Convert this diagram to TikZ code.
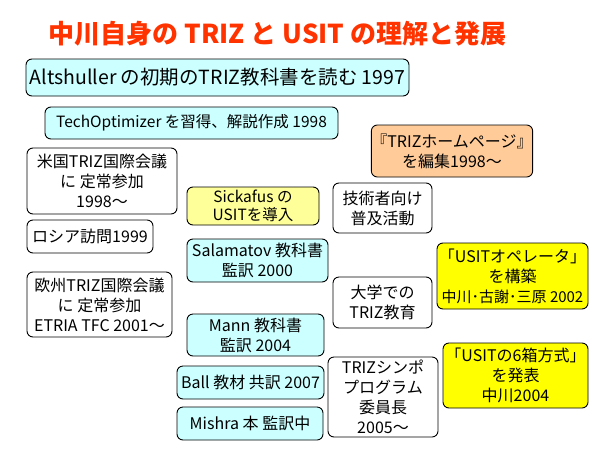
\documentclass[tikz,border=0pt]{standalone}
\usepackage{fontspec}
\setmainfont{Noto Sans CJK JP}
\definecolor{titlered}{HTML}{FF3300}
\definecolor{boxcyan}{HTML}{CCFFFF}
\definecolor{boxpeach}{HTML}{FFCC99}
\definecolor{boxlemon}{HTML}{FFFF99}
\definecolor{boxyellow}{HTML}{FFFF00}
\tikzset{
  card/.style={draw=black, line width=0.9pt, rounded corners=6pt, align=center,
    inner sep=0pt, font=\fontsize{16}{20}\selectfont, text=black},
  cyancard/.style={card, fill=boxcyan},
  whitecard/.style={card, fill=white},
  peachcard/.style={card, fill=boxpeach},
  lemoncard/.style={card, fill=boxlemon},
  yellowcard/.style={card, fill=boxyellow},
  titletext/.style={text=titlered, font=\fontsize{26}{30}\selectfont\bfseries, inner sep=0pt}
}
\begin{document}
\begin{tikzpicture}[x=1pt,y=-1pt]
\useasboundingbox[fill=white] (0,0) rectangle (596,450);
\node[titletext] (title) at (277.5,33.5) {中川自身の TRIZ と USIT の理解と発展};
\node[cyancard, minimum width=383pt, minimum height=37pt, font=\fontsize{19.5}{22}\selectfont] (alt) at (217.5,77.5) {Altshuller の初期のTRIZ教科書を読む 1997};
\node[cyancard, minimum width=293pt, minimum height=32pt, font=\fontsize{15.5}{19}\selectfont] (tech) at (191.5,123) {TechOptimizer を習得、解説作成 1998};
\node[peachcard, minimum width=160pt, minimum height=52pt] (home) at (452,151) {『TRIZホームページ』\\を編集1998～};
\node[whitecard, minimum width=150pt, minimum height=66pt] (us) at (102,181) {米国TRIZ国際会議\\に 定常参加\\1998～};
\node[whitecard, minimum width=126pt, minimum height=33pt] (russia) at (90,236.5) {ロシア訪問1999};
\node[lemoncard, minimum width=132pt, minimum height=38pt, font=\fontsize{15.5}{18}\selectfont] (sick) at (253,206) {Sickafus の\\USITを導入};
\node[whitecard, minimum width=99pt, minimum height=50pt] (eng) at (382.5,208) {技術者向け\\普及活動};
\node[cyancard, minimum width=141pt, minimum height=43pt] (sala) at (257.5,260.5) {Salamatov 教科書\\監訳 2000};
\node[yellowcard, minimum width=151pt, minimum height=66pt] (oper) at (512.5,276) {「USITオペレータ」\\を構築\\{\fontsize{15}{20}\selectfont 中川･古謝･三原 2002}};
\node[whitecard, minimum width=145pt, minimum height=65pt] (eu) at (99.5,304.5) {欧州TRIZ国際会議\\に 定常参加\\ETRIA TFC 2001～};
\node[whitecard, minimum width=99pt, minimum height=51pt] (univ) at (382.5,302.5) {大学での\\TRIZ教育};
\node[cyancard, minimum width=137pt, minimum height=42pt] (mann) at (255.5,335) {Mann 教科書\\監訳 2004};
\node[cyancard, minimum width=147pt, minimum height=33pt] (ball) at (250.5,382.5) {Ball 教材 共訳 2007};
\node[cyancard, minimum width=146pt, minimum height=33pt] (mishra) at (250,423.5) {Mishra 本 監訳中};
\node[whitecard, minimum width=110pt, minimum height=80pt] (symp) at (383,397) {TRIZシンポ\\プログラム\\委員長\\2005～};
\node[yellowcard, minimum width=145pt, minimum height=65pt] (six) at (515.5,375.5) {「USITの6箱方式」\\を発表\\中川2004};
\end{tikzpicture}
\end{document}
